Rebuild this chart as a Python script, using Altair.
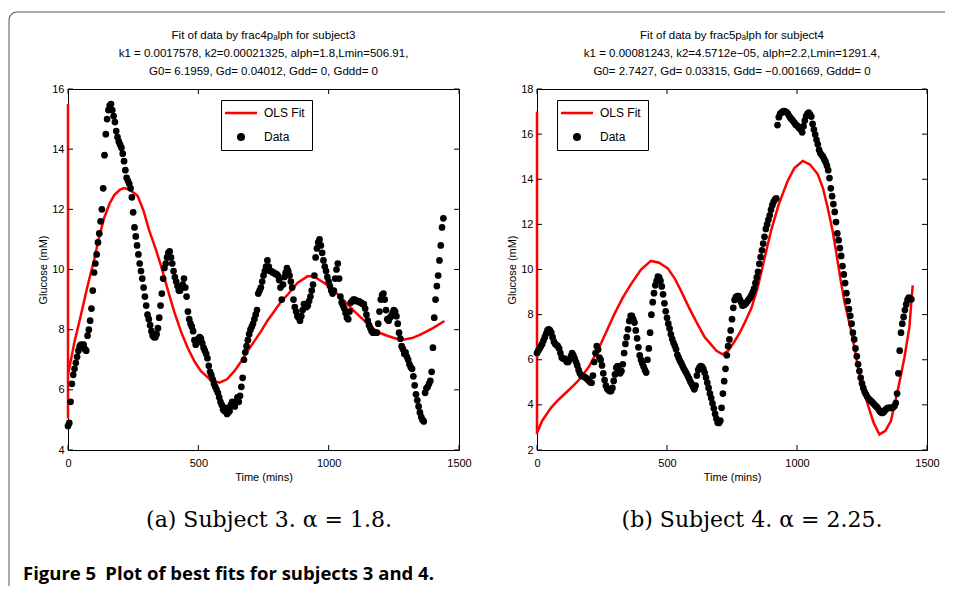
import altair as alt
import pandas as pd

# CGM readings are sampled every 5 minutes, t = 0 ... 1440 min
TIME = list(range(0, 1445, 5))

GLUCOSE_S3 = [
    4.8, 4.9, 5.6, 6.2, 6.5, 6.7, 6.9, 7.1, 7.3, 7.45, 7.5, 7.45,
    7.5, 7.35, 7.3, 7.8, 8.0, 8.3, 8.7, 9.3, 9.9, 10.2, 10.5, 10.9,
    11.2, 11.6, 12.0, 12.7, 13.8, 14.5, 15.0, 15.3, 15.45, 15.5, 15.3, 15.1,
    14.9, 14.6, 14.4, 14.25, 14.15, 14.05, 13.85, 13.6, 13.3, 13.05, 12.95, 12.85,
    12.7, 12.4, 11.9, 11.4, 11.1, 10.8, 10.5, 10.2, 9.95, 9.7, 9.4, 9.1,
    8.8, 8.5, 8.35, 8.15, 7.95, 7.8, 7.75, 7.75, 7.85, 8.05, 8.4, 8.8,
    9.2, 9.7, 10.05, 10.2, 10.4, 10.55, 10.6, 10.4, 10.2, 9.95, 9.75, 9.6,
    9.45, 9.3, 9.3, 9.4, 9.5, 9.7, 9.4, 9.1, 8.6, 8.35, 8.2, 8.1,
    7.95, 7.65, 7.5, 7.65, 7.7, 7.75, 7.7, 7.55, 7.4, 7.3, 7.2, 7.05,
    6.8, 6.6, 6.5, 6.35, 6.2, 6.1, 6.0, 5.9, 5.75, 5.6, 5.5, 5.35,
    5.3, 5.4, 5.2, 5.25, 5.3, 5.5, 5.6, 5.5, 5.45, 5.6, 5.75, 5.6,
    5.8, 6.1, 6.4, 7.0, 7.25, 7.45, 7.65, 7.85, 8.0, 8.1, 8.2, 8.35,
    8.5, 8.65, 9.2, 9.3, 9.4, 9.6, 9.8, 9.95, 10.1, 10.3, 10.1, 9.95,
    9.95, 9.9, 9.9, 9.85, 9.85, 9.8, 9.65, 9.4, 9.0, 9.5, 9.75, 9.9,
    10.05, 9.95, 9.8, 9.6, 9.4, 9.0, 8.75, 8.6, 8.45, 8.4, 8.3, 8.45,
    8.65, 8.85, 8.85, 8.75, 8.8, 8.95, 9.1, 9.3, 9.5, 9.8, 10.4, 10.7,
    10.9, 11.0, 10.8, 10.55, 10.3, 10.1, 9.95, 9.75, 9.6, 9.45, 9.3, 9.2,
    9.3, 9.7, 10.0, 10.2, 9.7, 9.1, 8.9, 8.8, 8.7, 8.55, 8.4, 8.35,
    8.6, 8.9, 8.95, 9.0, 9.0, 8.95, 8.95, 8.95, 8.9, 8.9, 8.85, 8.85,
    8.7, 8.5, 8.3, 8.15, 8.05, 7.95, 7.9, 7.9, 7.9, 7.9, 8.2, 8.6,
    9.0, 9.15, 9.2, 9.0, 8.65, 8.35, 8.3, 8.4, 8.45, 8.55, 8.65, 8.6,
    8.45, 8.2, 7.9, 7.7, 7.45, 7.35, 7.2, 7.25, 7.1, 7.0, 6.85, 6.75,
    6.7, 6.45, 6.15, 5.85, 5.65, 5.45, 5.25, 5.1, 5.0, 4.95, 5.9, 6.05,
    6.1, 6.2, 6.3, 6.6, 7.4, 8.4, 9.0, 9.45, 9.8, 10.3, 10.8, 11.4,
    11.7,
]

GLUCOSE_S4 = [
    6.3, 6.4, 6.5, 6.6, 6.7, 6.85, 7.0, 7.15, 7.3, 7.35, 7.3, 7.2,
    7.0, 6.8, 6.7, 6.65, 6.6, 6.5, 6.3, 6.1, 6.05, 6.05, 6.0, 5.9,
    5.9, 6.0, 6.15, 6.3, 6.2, 6.05, 5.9, 5.75, 5.55, 5.4, 5.3, 5.28,
    5.25, 5.22, 5.18, 5.13, 5.06, 5.0, 4.98, 5.3, 5.9, 6.3, 6.6, 6.45,
    6.1, 6.0, 5.75, 5.4, 5.1, 4.85, 4.72, 4.65, 4.61, 4.61, 4.75, 5.06,
    5.35, 5.65, 5.72, 5.55, 5.4, 5.5, 5.8, 6.3, 6.7, 7.0, 7.35, 7.72,
    7.95, 7.95, 7.8, 7.65, 7.3, 6.95, 6.55, 6.2, 6.0, 5.85, 5.7, 5.55,
    5.43, 6.0, 6.5, 7.2, 8.0, 8.55, 8.95, 9.3, 9.5, 9.68, 9.65, 9.5,
    9.25, 8.9, 8.5, 8.15, 7.86, 7.6, 7.38, 7.13, 6.92, 6.75, 6.62, 6.46,
    6.22, 6.08, 5.95, 5.85, 5.72, 5.6, 5.5, 5.4, 5.28, 5.16, 5.03, 4.92,
    4.8, 4.69, 4.85, 5.3, 5.55, 5.66, 5.72, 5.68, 5.58, 5.42, 5.21, 4.98,
    4.75, 4.5, 4.3, 4.07, 3.85, 3.6, 3.38, 3.21, 3.2, 3.3, 3.87, 4.5,
    5.05, 5.6, 6.2, 6.6, 6.9, 7.3, 7.8, 8.3, 8.65, 8.78, 8.82, 8.82,
    8.68, 8.55, 8.4, 8.42, 8.46, 8.52, 8.6, 8.68, 8.75, 8.86, 9.0, 9.15,
    9.4, 9.65, 9.9, 10.25, 10.55, 10.85, 11.15, 11.45, 11.8, 12.0, 12.2, 12.4,
    12.65, 12.85, 13.0, 13.1, 13.15, 16.4, 16.75, 16.9, 16.95, 17.0, 17.02, 17.0,
    16.97, 16.9, 16.8, 16.72, 16.65, 16.58, 16.5, 16.42, 16.38, 16.32, 16.25, 16.2,
    16.08, 16.35, 16.6, 16.8, 16.9, 16.95, 16.88, 16.78, 16.45, 16.2, 15.98, 15.75,
    15.55, 15.3, 15.15, 15.07, 15.0, 14.88, 14.77, 14.6, 14.4, 14.05, 13.6, 13.25,
    12.9, 12.55, 12.1, 11.6, 11.3, 10.95, 10.6, 10.15, 9.78, 9.4, 8.95, 8.6,
    8.25, 7.95, 7.6, 7.2, 6.9, 6.5, 6.15, 5.8, 5.5, 5.2, 4.95, 4.75,
    4.58, 4.47, 4.36, 4.28, 4.22, 4.17, 4.11, 4.05, 3.98, 3.93, 3.87, 3.77,
    3.7, 3.65, 3.65, 3.7, 3.78, 3.84, 3.87, 3.87, 3.87, 3.87, 3.9, 3.95,
    4.08, 4.5, 5.4, 6.4, 7.2, 7.6, 7.9, 8.2, 8.45, 8.65, 8.75, 8.7,
    8.68,
]

FIT_S3_TIME = [0, 0, 0, 25, 50, 75, 101, 120, 139, 160, 178, 200, 215, 235, 267,
               290, 312, 335, 357, 382, 408, 435, 459, 485, 510, 545, 581, 610,
               638, 665, 689, 715, 741, 765, 792, 815, 843, 880, 920, 945, 971,
               1000, 1022, 1050, 1073, 1100, 1124, 1150, 1175, 1200, 1227, 1260,
               1290, 1320, 1354, 1400, 1444]
FIT_S3_GLUCOSE = [15.5, 5.05, 6.5, 7.6, 8.5, 9.45, 10.35, 11.1, 11.72, 12.2, 12.48,
                  12.66, 12.71, 12.66, 12.45, 11.95, 11.28, 10.72, 10.12, 9.35, 8.58,
                  7.9, 7.4, 6.95, 6.62, 6.35, 6.24, 6.35, 6.62, 6.95, 7.29, 7.62,
                  7.95, 8.3, 8.62, 8.9, 9.17, 9.55, 9.78, 9.76, 9.62, 9.45, 9.28,
                  9.05, 8.84, 8.6, 8.4, 8.2, 8.01, 7.88, 7.79, 7.7, 7.67, 7.72,
                  7.84, 8.05, 8.29]

FIT_S4_TIME = [0, 0, 0, 20, 54, 80, 105, 140, 169, 200, 233, 265, 297, 330, 361,
               400, 438, 470, 503, 530, 554, 585, 618, 645, 669, 690, 714, 735,
               759, 780, 797, 825, 849, 875, 900, 930, 964, 990, 1022, 1050, 1080,
               1100, 1118, 1137, 1150, 1169, 1182, 1210, 1233, 1250, 1272, 1295,
               1317, 1340, 1361, 1387, 1413, 1432, 1445]
FIT_S4_GLUCOSE = [17.0, 2.7, 2.75, 3.3, 3.87, 4.2, 4.47, 4.85, 5.2, 5.7, 6.39, 7.2,
                  8.01, 8.75, 9.34, 10.0, 10.38, 10.3, 10.05, 9.6, 9.05, 8.3, 7.57,
                  7.0, 6.68, 6.4, 6.24, 6.4, 6.8, 7.2, 7.6, 8.3, 9.2, 10.5, 11.71,
                  12.9, 13.92, 14.5, 14.81, 14.65, 14.22, 13.6, 12.74, 11.71, 10.82,
                  9.45, 8.6, 7.2, 5.8, 4.9, 4.02, 3.2, 2.69, 2.85, 3.28, 4.61, 6.09,
                  7.42, 9.3]

X_TICKS = [0, 500, 1000, 1500]
Y_TICKS_S3 = [4, 6, 8, 10, 12, 14, 16]
Y_TICKS_S4 = [2, 4, 6, 8, 10, 12, 14, 16, 18]
SERIES = ["OLS Fit", "Data"]

TITLE_S3 = ["Fit of data by frac4p\u2090lph for subject3",
            "k1 = 0.0017578, k2=0.00021325, alph=1.8,Lmin=506.91,",
            "G0= 6.1959, Gd= 0.04012, Gdd= 0, Gddd= 0" + "\u00a0" * 10]
TITLE_S4 = ["Fit of data by frac5p\u2090lph for subject4",
            "k1 = 0.00081243, k2=4.5712e\u221205, alph=2.2,Lmin=1291.4,",
            "G0= 2.7427, Gd= 0.03315, Gdd= \u22120.001669, Gddd= 0" + "\u00a0" * 5]
CAPTION_S3 = "(a) Subject 3. \u03b1 = 1.8."
CAPTION_S4 = "(b) Subject 4. \u03b1 = 2.25."
FIGURE_CAPTION = "Figure 5\u2002Plot of best fits for subjects 3 and 4."

LINE_SYMBOL = "M-4,-0.32H4V0.32H-4Z"
PLOT_H = 361
FONT = "Liberation Sans"
FRAME = "#555555"


def panel(times, values, fit_t, fit_g, y_dom, y_ticks, title_lines, caption,
          legend_x, width, caption_x, extra=()):
    data = pd.DataFrame({"t": times, "g": values, "series": "Data"})
    fit = pd.DataFrame({"t": fit_t, "g": fit_g, "i": list(range(len(fit_t)))})
    xs = alt.Scale(domain=[0, 1500], nice=False, zero=False)
    ys = alt.Scale(domain=y_dom, nice=False, zero=False)
    xax = alt.Axis(values=X_TICKS, title="Time (mins)", labelPadding=7,
                   titlePadding=3, format="d")
    yax = alt.Axis(values=y_ticks, title="Glucose (mM)", labelPadding=4,
                   titlePadding=3, format="d")
    X = alt.X("t:Q", scale=xs, axis=xax)
    Y = alt.Y("g:Q", scale=ys, axis=yax)
    leg = alt.Legend(title=None, orient="none", legendX=legend_x, legendY=11,
                     direction="vertical", fillColor="white", strokeColor="black",
                     padding=7, symbolSize=64, symbolOffset=7, labelOffset=17,
                     rowPadding=12, labelFont=FONT, labelFontSize=12,
                     labelColor="black", cornerRadius=0, symbolStrokeWidth=0)
    fit_line = alt.Chart(fit).mark_line(color="#ff0000", strokeWidth=2.5).encode(
        x=X, y=Y, order="i:Q")
    pts = alt.Chart(data).mark_point(filled=True, size=45, opacity=1).encode(
        x=X, y=Y,
        color=alt.Color("series:N", scale=alt.Scale(domain=SERIES, range=["#ff0000", "#000000"]), legend=leg),
        shape=alt.Shape("series:N", scale=alt.Scale(domain=SERIES, range=[LINE_SYMBOL, "circle"]), legend=leg),
    )
    xt = pd.DataFrame({"t": X_TICKS})
    yt = pd.DataFrame({"g": y_ticks})
    tick_top = alt.Chart(xt).mark_rule(color="black").encode(x=X, y=alt.value(0), y2=alt.value(5))
    tick_bot = alt.Chart(xt).mark_rule(color="black").encode(x=X, y=alt.value(PLOT_H - 5), y2=alt.value(PLOT_H))
    tick_l = alt.Chart(yt).mark_rule(color="black").encode(y=Y, x=alt.value(0), x2=alt.value(5))
    tick_r = alt.Chart(yt).mark_rule(color="black").encode(y=Y, x=alt.value(width - 5), x2=alt.value(width))
    cap = alt.Chart(pd.DataFrame({"label": [caption]})).mark_text(
        font="DejaVu Serif", fontSize=22, baseline="alphabetic", align="center",
        color="black").encode(x=alt.value(caption_x), y=alt.value(438), text="label:N")
    ttl = alt.Chart(pd.DataFrame({"label": ["\n".join(title_lines)]})).mark_text(
        font=FONT, fontSize=11.5, baseline="alphabetic", align="center", color="black",
        lineBreak="\n", lineHeight=18).encode(
        x=alt.value(width / 2), y=alt.value(-50), text="label:N")
    return alt.layer(fit_line, pts, tick_top, tick_bot, tick_l, tick_r, cap, ttl,
                     *extra).properties(
        width=width, height=PLOT_H,
        view=alt.ViewBackground(stroke="black", strokeWidth=1),
    )


one = pd.DataFrame({"k": [0]})
frame_top = alt.Chart(one).mark_rule(color=FRAME, strokeWidth=1).encode(
    x=alt.value(-51), x2=alt.value(877), y=alt.value(-77))
frame_left = alt.Chart(one).mark_rule(color=FRAME, strokeWidth=1).encode(
    x=alt.value(-59), y=alt.value(-69), y2=alt.value(497))
corner = alt.Chart(one).mark_arc(theta=4.712389, theta2=6.283185, innerRadius=7.5,
                                 outerRadius=8.5, color=FRAME).encode(
    x=alt.value(-51), y=alt.value(-69))
fig_text = alt.Chart(pd.DataFrame({"label": [FIGURE_CAPTION]})).mark_text(
    font="Open Sans", fontWeight="bold", fontSize=18.5, align="left",
    baseline="alphabetic", color="black").encode(
    x=alt.value(-45), y=alt.value(491), text="label:N")

panel_a = panel(TIME, GLUCOSE_S3, FIT_S3_TIME, FIT_S3_GLUCOSE, [4, 16], Y_TICKS_S3,
                TITLE_S3, CAPTION_S3, 153, 391, 201,
                extra=(frame_top, frame_left, corner, fig_text))
panel_b = panel(TIME, GLUCOSE_S4, FIT_S4_TIME, FIT_S4_GLUCOSE, [2, 18], Y_TICKS_S4,
                TITLE_S4, CAPTION_S4, 20, 390, 215)

chart = alt.hconcat(panel_a, panel_b, spacing=78, bounds="flush").resolve_scale(
    color="independent", shape="independent"
).properties(
    padding={"left": 0, "top": 3, "right": 0, "bottom": 0}
).configure_axis(
    labelFont=FONT, labelFontSize=11, labelColor="black", titleFont=FONT,
    titleFontSize=11, titleFontWeight="normal", titleColor="black", grid=False,
    domain=False, ticks=False, tickSize=0, labelFlush=False,
).configure_view(stroke="black")

chart.save("out.html", embed_options={"renderer": "svg", "actions": False})
